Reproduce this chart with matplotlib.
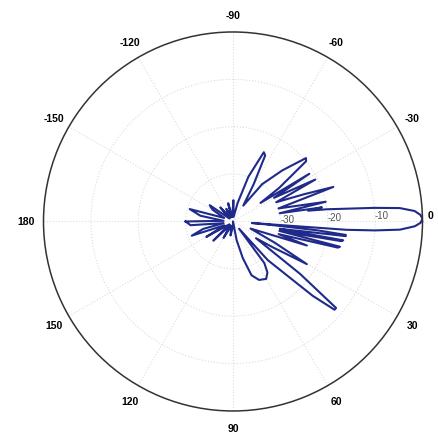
import numpy as np
import matplotlib.pyplot as plt

# pattern: angle (deg, clockwise positive) and gain (dB)
angle_deg = [-180, -176, -170, -164, -158, -150, -145, -140, -132, -125, -118, -110,
             -105, -98, -89, -82, -76, -71, -66, -64, -61, -57, -52, -46, -41, -39.5,
             -36, -34, -32, -30, -27, -24, -21, -19, -16, -12, -10, -9, -8.2,
             -7.4, -5.5, -4.6, -3.3, -2, -0.8, 0.4, 1.5, 2.8, 3.6, 4.2, 4.6,
             5, 6, 6.8, 7.4, 8, 9, 9.7, 10.3, 11.5, 13.3, 14, 15.5, 18, 22, 27, 30,
             33, 36, 38, 40, 41, 43, 45, 48, 50, 53, 56, 60, 66, 71, 75, 79, 83,
             90, 100, 110, 120, 128, 135.7, 142, 150, 156, 161, 166, 170, 175, 180]
gain_db = [-30, -38, -33, -30.5, -38, -35, -34, -39, -36, -39, -37, -39,
           -36, -39, -35.5, -39, -36, -30, -24, -24.5, -31, -36, -30, -25, -19.6, -20,
           -28, -33, -21, -30, -20.5, -30, -24, -17.6, -30, -20, -30, -21, -24,
           -20, -10, -4.7, -1.6, -0.4, 0, -0.4, -1.6, -4.7, -10, -16, -36,
           -33, -22, -16, -16, -25, -30, -16.4, -16.8, -30, -16.8, -17.2, -30, -23.6, -36, -30, -22,
           -30, -34, -22, -11.6, -11.6, -17, -24, -29, -38, -29, -27, -26, -26.5, -28, -32, -36, -40,
           -39, -37, -39, -36, -39, -34.2, -39, -33.5, -38, -30.8, -33.5, -38, -31, -30]

theta_ticks = [0, 30, 60, 90, 120, 150, 180, -150, -120, -90, -60, -30]
r_rings = [-30, -20, -10]

fig = plt.figure(figsize=(4.38, 4.35), dpi=100)
ax = fig.add_axes([0.0993, 0.0529, 0.8653, 0.8713], projection="polar")
ax.set_theta_zero_location("E")
ax.set_theta_direction(-1)

ax.plot(np.deg2rad(angle_deg), gain_db, color="#1f2a8a", lw=1.5)

ax.set_xticks(np.deg2rad(np.mod(theta_ticks, 360)))
# the "0" label sits too close to the right edge, so it is drawn by hand below
ax.set_xticklabels(["" if t == 0 else str(t) for t in theta_ticks], fontsize=7.5,
                   fontweight="bold", family="Liberation Sans")
ax.set_thetalim(0, 2 * np.pi)
ax.set_ylim(-40, 0)
ax.tick_params(axis="x", pad=2)
ax.text(np.deg2rad(-2), 1.8, "0", fontsize=7.5, fontweight="bold",
        family="Liberation Sans", ha="center", va="center", clip_on=False)
ax.set_yticks(r_rings)
ax.set_yticklabels([])
for r in r_rings:
    ax.text(np.deg2rad(-2.5), r, str(r), fontsize=7, color="#555555",
            ha="left", va="center", family="Liberation Sans")

ax.grid(True, color="#dcdcdc", linestyle=":", lw=0.8)
ax.spines["polar"].set_color("#333333")
ax.spines["polar"].set_linewidth(1.1)

plt.savefig("out.png", dpi=100)
